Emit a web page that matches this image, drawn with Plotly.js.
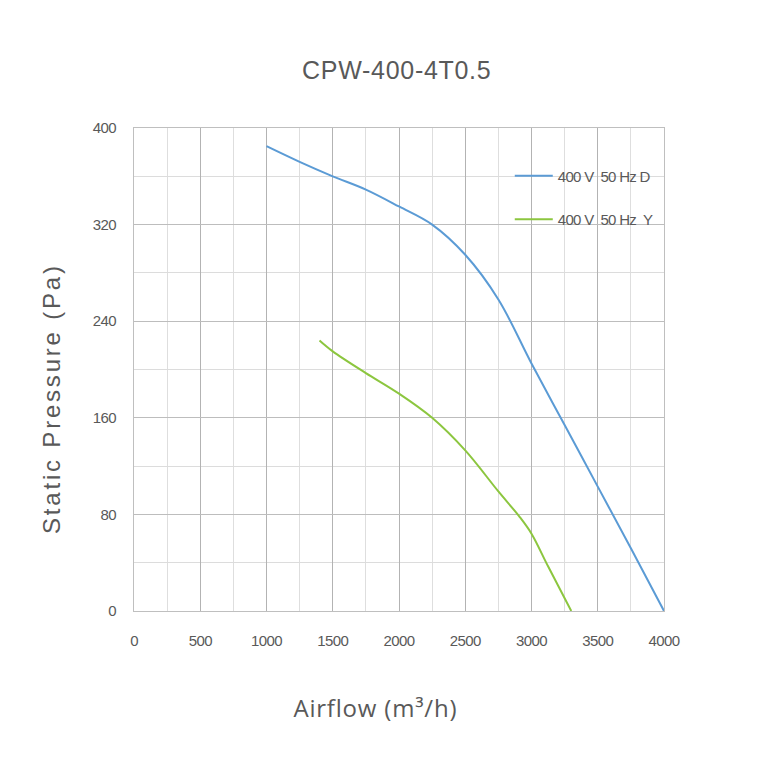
<!DOCTYPE html>
<html>
<head>
<meta charset="utf-8">
<script src="https://cdn.plot.ly/plotly-3.0.1.min.js"></script>
<style>
  body { margin: 0; background: #fff; }
  #chart { width: 760px; height: 760px; }
  /* the source chart uses spaced / narrow lettering */
  .gtitle { letter-spacing: 0.7px; }
  .xtick text, .ytick text { letter-spacing: -0.6px; }
  .legendtext { letter-spacing: -0.7px; }
  g.annotation[data-index="0"] text { letter-spacing: 0.8px; }
  g.annotation[data-index="1"] text { letter-spacing: 2.8px; }
</style>
</head>
<body>
<div id="chart"></div>
<script>
// curve readings (airflow m3/h, static pressure Pa)
var flowD = [1000, 1250, 1500, 1750, 2000, 2250, 2500, 2750, 3000, 3250, 3500, 3750, 4000];
var presD = [385, 372, 360, 349, 335, 320, 295, 258, 205, 154, 103, 52, 0];

var flowY = [1400, 1500, 1750, 2000, 2250, 2500, 2750, 2910, 3000, 3125, 3300];
var presY = [224, 215, 197, 180, 160, 133, 99, 78, 64, 37, 0];

var nameD = '400\u00a0V\u00a0\u00a050\u00a0Hz\u00a0D';
var nameY = '400\u00a0V\u00a0\u00a050\u00a0Hz\u00a0\u00a0Y';

var grey = '#595959';
var tickFont = {family: 'Liberation Sans, Arial, sans-serif', size: 15, color: grey};

var trace1 = {
  x: flowD, y: presD, name: nameD, legendgroup: 'a',
  type: 'scatter', mode: 'lines',
  line: {color: '#5b9bd5', width: 2, shape: 'spline', smoothing: 1}
};

var trace2 = {
  x: flowY, y: presY, name: nameY, legendgroup: 'b',
  type: 'scatter', mode: 'lines',
  line: {color: '#8cc63f', width: 2, shape: 'spline', smoothing: 1}
};

var layout = {
  width: 760, height: 760,
  margin: {l: 134, r: 96, t: 128, b: 149},
  paper_bgcolor: '#fff',
  plot_bgcolor: '#fff',
  title: {
    text: 'CPW-400-4T0.5',
    font: {family: 'Liberation Sans, Arial, sans-serif', size: 25, color: grey},
    x: 0.522, xanchor: 'center', y: 0.908, yanchor: 'middle'
  },
  xaxis: {
    range: [0, 4000], dtick: 500, tick0: 0,
    showgrid: true, gridcolor: '#b3b3b3', gridwidth: 1,
    minor: {dtick: 250, showgrid: true, gridcolor: '#dedede', gridwidth: 1},
    showline: true, linecolor: '#bfbfbf', linewidth: 1, mirror: true,
    zeroline: false,
    ticks: 'outside', ticklen: 16, tickcolor: 'rgba(0,0,0,0)',
    tickfont: tickFont
  },
  yaxis: {
    range: [0, 400], dtick: 80, tick0: 0,
    showgrid: true, gridcolor: '#bdbdbd', gridwidth: 1,
    minor: {dtick: 40, showgrid: true, gridcolor: '#dcdcdc', gridwidth: 1},
    showline: true, linecolor: '#bfbfbf', linewidth: 1, mirror: true,
    zeroline: false,
    ticks: 'outside', ticklen: 14, tickcolor: 'rgba(0,0,0,0)',
    tickfont: tickFont
  },
  annotations: [
    {
      text: 'Airflow (m\u00b3/h)', showarrow: false,
      xref: 'paper', yref: 'paper', x: 0.4566, y: -0.2008,
      xanchor: 'center', yanchor: 'middle',
      font: {family: 'Open Sans, sans-serif', size: 24, color: grey}
    },
    {
      text: 'Static Pressure (Pa)', showarrow: false, textangle: -90,
      xref: 'paper', yref: 'paper', x: -0.1547, y: 0.439,
      xanchor: 'center', yanchor: 'middle',
      font: {family: 'Liberation Sans, Arial, sans-serif', size: 24, color: grey}
    }
  ],
  legend: {
    x: 0.709, y: 0.935, xanchor: 'left', yanchor: 'top',
    bgcolor: 'rgba(0,0,0,0)',
    traceorder: 'grouped', tracegroupgap: 21,
    itemwidth: 38,
    font: {family: 'Liberation Sans, Arial, sans-serif', size: 15, color: grey}
  },
  showlegend: true
};

Plotly.newPlot('chart', [trace1, trace2], layout, {displayModeBar: false, staticPlot: true});
</script>
</body>
</html>
